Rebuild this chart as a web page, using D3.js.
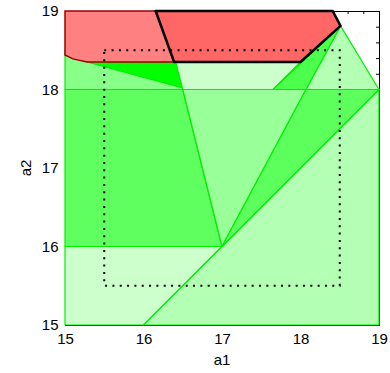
<!DOCTYPE html>
<html>
<head>
<meta charset="utf-8">
<script src="https://cdn.jsdelivr.net/npm/d3@7"></script>
<style>
  body { margin: 0; background: #fff; }
  text { font-family: "Liberation Sans", Arial, sans-serif; }
</style>
</head>
<body>
<div id="chart"></div>
<script>
// axis ticks
const xTicks = [15, 16, 17, 18, 19];
const yTicks = [15, 16, 17, 18, 19];
const minorTicks = d3.range(15, 19.001, 0.2);

// green regions (a1, a2)
const lowLeft = [[15, 15], [16, 15], [17, 16], [15, 16]];
const lowRight = [[16, 15], [19, 15], [19, 18], [17, 16]];
const midLeft = [[15, 16], [17, 16], [16.5, 18], [15, 18]];
const midWedge = [[17, 16], [18.07, 18], [16.5, 18]];
const midStrip = [[17, 16], [19, 18], [18.07, 18]];
const topRight = [[18.07, 18], [19, 18], [18.51, 18.81]];
const topLeft = [[15, 18], [16.5, 18], [16.41, 18.5], [15, 18.5]];
const topLeftDark = [[15.28, 18.35], [16.41, 18.35], [16.5, 18.02]];
const topMid = [[16.5, 18], [17.65, 18], [18, 18.35], [16.41, 18.35]];
const topRightDark = [[17.65, 18], [18.07, 18], [18.51, 18.81]];

// red regions
const redLeft = [[15, 19], [16.155, 19], [16.39, 18.35], [15.28, 18.35], [15.1, 18.39], [15, 18.44]];
const redRight = [[16.155, 19], [18.41, 19], [18.51, 18.81], [18, 18.35], [16.39, 18.35]];

// dotted box corners
const boxLo = [15.5, 15.5];
const boxHi = [18.5, 18.5];

const svg = d3.select("#chart")
  .append("svg")
  .attr("width", 390)
  .attr("height", 373);

const x = d3.scaleLinear().domain([15, 19]).range([65, 379]);
const y = d3.scaleLinear().domain([15, 19]).range([325, 11]);

// axes, ticks pointing inward
function styleAxis(g) {
  g.selectAll("path.domain").attr("stroke", "#000");
  g.selectAll(".tick line").attr("stroke", "#000");
  g.selectAll(".tick text").attr("font-size", 15).attr("fill", "#000");
}

svg.append("g")
  .attr("transform", "translate(0,325)")
  .call(d3.axisBottom(x).tickValues(minorTicks).tickSize(-3).tickFormat(""))
  .call(styleAxis);
svg.append("g")
  .attr("transform", "translate(0,325)")
  .call(d3.axisBottom(x).tickValues(xTicks).tickSizeInner(-3).tickSizeOuter(0).tickPadding(8.5).tickFormat(d3.format("d")))
  .call(styleAxis);
svg.append("g")
  .attr("transform", "translate(0,11)")
  .call(d3.axisTop(x).tickValues(minorTicks).tickSize(-3).tickFormat(""))
  .call(styleAxis);
svg.append("g")
  .attr("transform", "translate(65,0)")
  .call(d3.axisLeft(y).tickValues(minorTicks).tickSize(-3).tickFormat(""))
  .call(styleAxis);
svg.append("g")
  .attr("transform", "translate(65,0)")
  .call(d3.axisLeft(y).tickValues(yTicks).tickSizeInner(-3).tickSizeOuter(0).tickPadding(6.5).tickFormat(d3.format("d")))
  .call(styleAxis);
svg.append("g")
  .attr("transform", "translate(379,0)")
  .call(d3.axisRight(y).tickValues(minorTicks).tickSize(-3).tickFormat(""))
  .call(styleAxis);

svg.append("text")
  .attr("x", (x(15) + x(19)) / 2)
  .attr("y", 365)
  .attr("text-anchor", "middle")
  .attr("font-size", 15)
  .text("a1");

svg.append("text")
  .attr("transform", `translate(30.5,${(y(15) + y(19)) / 2}) rotate(-90)`)
  .attr("text-anchor", "middle")
  .attr("font-size", 15)
  .text("a2");

const line = d3.line().x(d => x(d[0])).y(d => y(d[1])).curve(d3.curveLinearClosed);

const greens = [
  [lowLeft, "#ccffcc"],
  [lowRight, "#b3ffb3"],
  [midLeft, "#5fff5f"],
  [midWedge, "#99ff99"],
  [midStrip, "#5cff5c"],
  [topRight, "#b3ffb3"],
  [topLeft, "#88ff88"],
  [topLeftDark, "#00ff00"],
  [topMid, "#ccffcc"],
  [topRightDark, "#4cff4c"]
];

svg.selectAll(".region")
  .data(greens)
  .enter()
  .append("path")
  .attr("class", "region")
  .attr("d", d => line(d[0]))
  .attr("fill", d => d[1])
  .attr("stroke", "#00ee00")
  .attr("stroke-width", 1.2)
  .attr("stroke-linejoin", "round");

svg.append("path")
  .attr("d", line(redLeft))
  .attr("fill", "#ff8080")
  .attr("stroke", "#990000")
  .attr("stroke-width", 1.5);

svg.append("path")
  .attr("d", line(redRight))
  .attr("fill", "#ff6666")
  .attr("stroke", "#000")
  .attr("stroke-width", 2.5)
  .attr("stroke-linejoin", "round");

svg.append("rect")
  .attr("x", x(boxLo[0]))
  .attr("y", y(boxHi[1]))
  .attr("width", x(boxHi[0]) - x(boxLo[0]))
  .attr("height", y(boxLo[1]) - y(boxHi[1]))
  .attr("fill", "none")
  .attr("stroke", "#000")
  .attr("stroke-width", 2)
  .attr("stroke-dasharray", "2,5.33");
</script>
</body>
</html>
